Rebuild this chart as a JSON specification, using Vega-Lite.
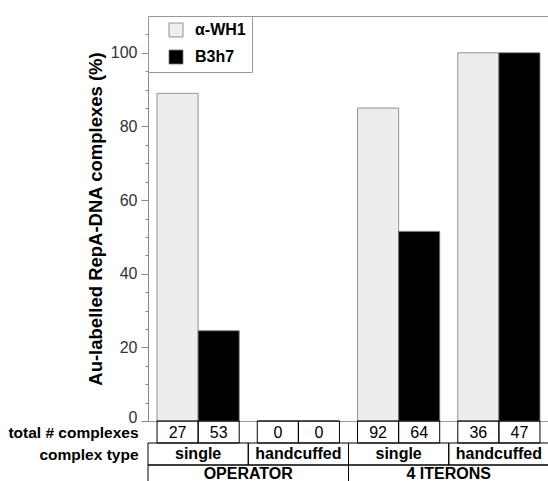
{
  "$schema": "https://vega.github.io/schema/vega-lite/v6.json",
  "padding": {"left": 7, "top": 15, "right": 0, "bottom": 0},
  "spacing": 0,
  "bounds": "flush",
  "config": {"font": "Liberation Sans"},
  "datasets": {
    "complexes": [
      {"site": "OPERATOR", "type": "single", "column": "OPERATOR single", "series": "α-WH1", "value": 89, "n": 27},
      {"site": "OPERATOR", "type": "single", "column": "OPERATOR single", "series": "B3h7", "value": 24.5, "n": 53},
      {"site": "OPERATOR", "type": "handcuffed", "column": "OPERATOR handcuffed", "series": "α-WH1", "value": 0, "n": 0},
      {"site": "OPERATOR", "type": "handcuffed", "column": "OPERATOR handcuffed", "series": "B3h7", "value": 0, "n": 0},
      {"site": "4 ITERONS", "type": "single", "column": "4 ITERONS single", "series": "α-WH1", "value": 85, "n": 92},
      {"site": "4 ITERONS", "type": "single", "column": "4 ITERONS single", "series": "B3h7", "value": 51.5, "n": 64},
      {"site": "4 ITERONS", "type": "handcuffed", "column": "4 ITERONS handcuffed", "series": "α-WH1", "value": 100, "n": 36},
      {"site": "4 ITERONS", "type": "handcuffed", "column": "4 ITERONS handcuffed", "series": "B3h7", "value": 100, "n": 47}
    ]
  },
  "vconcat": [
    {
      "width": 401,
      "height": 405,
      "view": {"stroke": "#999", "strokeWidth": 1},
      "data": {"name": "complexes"},
      "mark": {"type": "bar", "stroke": "#777", "strokeWidth": 0.8},
      "encoding": {
        "x": {
          "field": "column", "type": "nominal",
          "sort": ["OPERATOR single", "OPERATOR handcuffed", "4 ITERONS single", "4 ITERONS handcuffed"],
          "scale": {"paddingInner": 0, "paddingOuter": 0},
          "axis": null
        },
        "xOffset": {
          "field": "series", "type": "nominal", "sort": ["α-WH1", "B3h7"],
          "scale": {"paddingInner": 0, "paddingOuter": 0.22}
        },
        "y": {
          "field": "value", "type": "quantitative",
          "scale": {"domain": [0, 110], "nice": false},
          "axis": {
            "title": "Au-labelled RepA-DNA complexes (%)",
            "titleFont": "Liberation Sans",
            "titleFontSize": 18.5,
            "titleFontWeight": "bold",
            "titleColor": "#000",
            "titlePadding": 5,
            "values": [0, 5, 10, 15, 20, 25, 30, 35, 40, 45, 50, 55, 60, 65, 70, 75, 80, 85, 90, 95, 100, 105],
            "labelExpr": "datum.value % 20 === 0 ? datum.label : ''",
            "labelOverlap": false,
            "labelFontSize": 16,
            "labelColor": "#333",
            "labelPadding": 4,
            "labelOffset": {"condition": {"test": "datum.value === 0", "value": -4}, "value": 0},
            "tickSize": {"condition": {"test": "datum.value % 20 === 0", "value": 7}, "value": 3},
            "tickColor": "#888",
            "domainColor": "#888",
            "grid": false
          }
        },
        "fill": {
          "field": "series", "type": "nominal", "sort": ["α-WH1", "B3h7"],
          "scale": {"range": ["#ededed", "#000000"]},
          "legend": {
            "title": null,
            "orient": "top-left",
            "offset": 0,
            "padding": 6,
            "strokeColor": "#999",
            "fillColor": "#fff",
            "symbolType": "square",
            "symbolSize": 196,
            "symbolStrokeColor": "#777",
            "symbolStrokeWidth": 0.8,
            "symbolOffset": 14,
            "labelOffset": 11,
            "labelFontSize": 16,
            "labelFontWeight": "bold",
            "labelColor": "#000",
            "rowPadding": 9
          }
        }
      }
    },
    {
      "width": 401,
      "height": 66,
      "view": {"stroke": null},
      "data": {"name": "complexes"},
      "resolve": {"scale": {"x": "independent"}},
      "layer": [
        {
          "mark": {"type": "rect", "fill": null, "stroke": "#000", "strokeWidth": 1},
          "encoding": {
            "x": {"field": "column", "type": "nominal", "sort": ["OPERATOR single", "OPERATOR handcuffed", "4 ITERONS single", "4 ITERONS handcuffed"], "scale": {"paddingInner": 0, "paddingOuter": 0}, "axis": null},
            "xOffset": {"field": "series", "type": "nominal", "sort": ["α-WH1", "B3h7"], "scale": {"paddingInner": 0, "paddingOuter": 0}},
            "y": {"datum": "total # complexes", "type": "nominal",
              "scale": {"domain": ["total # complexes", "complex type", "site"], "paddingInner": 0, "paddingOuter": 0},
              "axis": {"title": null, "domain": false, "ticks": false, "labelFontSize": 15.5, "labelFontWeight": "bold", "labelColor": "#000", "labelPadding": 10, "labelOffset": 1, "labelExpr": "datum.value == 'site' ? '' : datum.value"}}
          }
        },
        {
          "mark": {"type": "text", "fontSize": 16, "color": "#000", "dy": 1},
          "encoding": {
            "x": {"field": "column", "type": "nominal", "sort": ["OPERATOR single", "OPERATOR handcuffed", "4 ITERONS single", "4 ITERONS handcuffed"], "scale": {"paddingInner": 0, "paddingOuter": 0}, "axis": null},
            "xOffset": {"field": "series", "type": "nominal", "sort": ["α-WH1", "B3h7"], "scale": {"paddingInner": 0, "paddingOuter": 0}},
            "y": {"datum": "total # complexes", "type": "nominal"},
            "text": {"field": "n", "type": "quantitative"}
          }
        },
        {
          "transform": [{"filter": "datum.series == 'α-WH1'"}],
          "mark": {"type": "rect", "fill": null, "stroke": "#000", "strokeWidth": 1},
          "encoding": {
            "x": {"field": "column", "type": "nominal", "sort": ["OPERATOR single", "OPERATOR handcuffed", "4 ITERONS single", "4 ITERONS handcuffed"], "scale": {"paddingInner": 0, "paddingOuter": 0}, "axis": null},
            "y": {"datum": "complex type", "type": "nominal"}
          }
        },
        {
          "transform": [{"filter": "datum.series == 'α-WH1'"}],
          "mark": {"type": "text", "fontSize": 16, "fontWeight": "bold", "color": "#000"},
          "encoding": {
            "x": {"field": "column", "type": "nominal", "sort": ["OPERATOR single", "OPERATOR handcuffed", "4 ITERONS single", "4 ITERONS handcuffed"], "scale": {"paddingInner": 0, "paddingOuter": 0}, "axis": null},
            "y": {"datum": "complex type", "type": "nominal"},
            "text": {"field": "type", "type": "nominal"}
          }
        },
        {
          "transform": [{"filter": "datum.series == 'α-WH1' && datum.type == 'single'"}],
          "mark": {"type": "rect", "fill": null, "stroke": "#000", "strokeWidth": 1},
          "encoding": {
            "x": {"field": "site", "type": "nominal", "sort": ["OPERATOR", "4 ITERONS"], "scale": {"paddingInner": 0, "paddingOuter": 0}, "axis": null},
            "y": {"datum": "site", "type": "nominal"}
          }
        },
        {
          "transform": [{"filter": "datum.series == 'α-WH1' && datum.type == 'single'"}],
          "mark": {"type": "text", "fontSize": 16, "fontWeight": "bold", "color": "#000", "dy": -2},
          "encoding": {
            "x": {"field": "site", "type": "nominal", "sort": ["OPERATOR", "4 ITERONS"], "scale": {"paddingInner": 0, "paddingOuter": 0}, "axis": null},
            "y": {"datum": "site", "type": "nominal"},
            "text": {"field": "site", "type": "nominal"}
          }
        }
      ]
    }
  ],
  "resolve": {"scale": {"x": "independent", "y": "independent", "fill": "independent"}}
}
